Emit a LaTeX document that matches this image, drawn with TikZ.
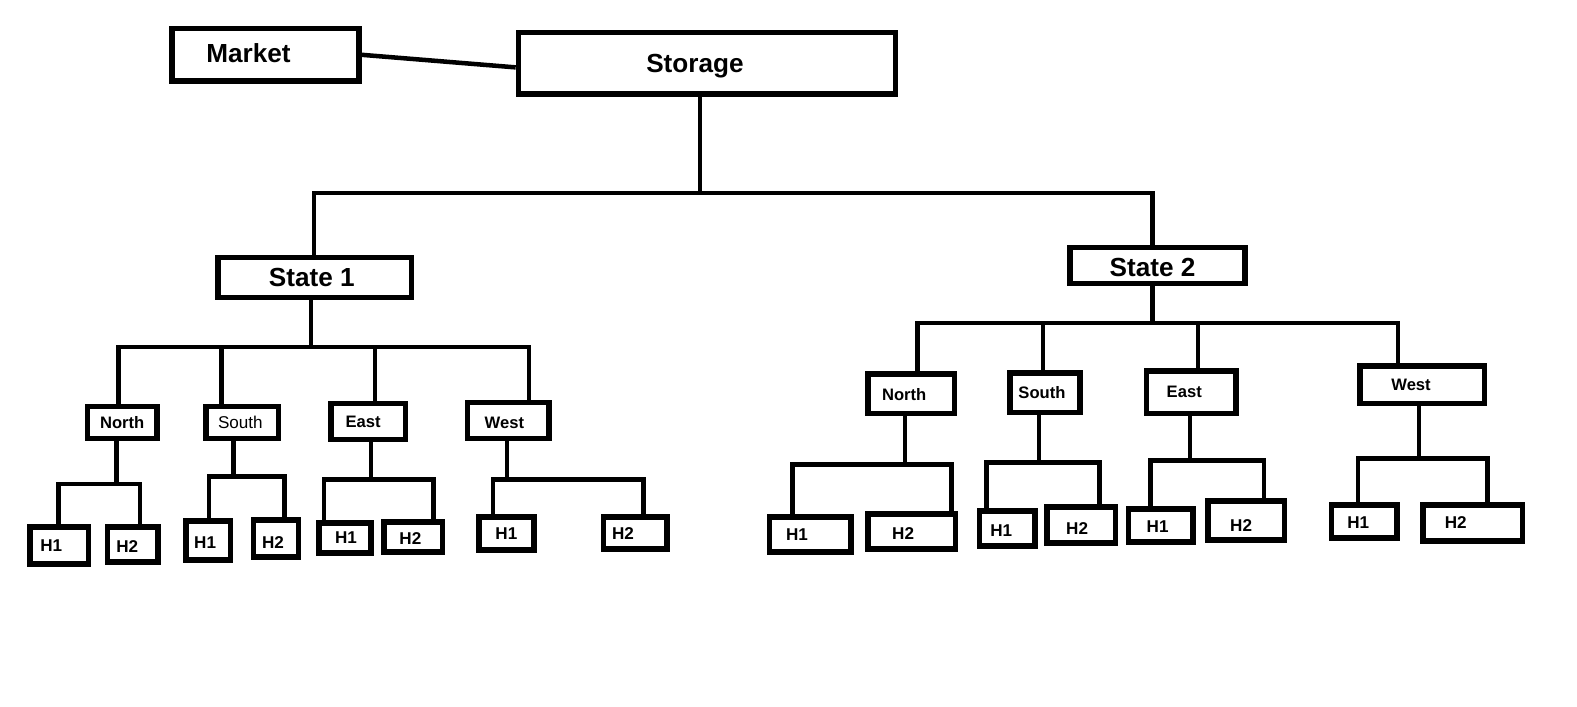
\documentclass[tikz,border=0pt]{standalone}
\usepackage{fontspec}
\setmainfont{Liberation Sans}

\tikzset{
	box/.style={draw,line width=5.5pt,inner sep=0pt},
	wire/.style={line width=4.5pt},
	big/.style={font=\fontsize{26}{30}\selectfont\bfseries},
	dir/.style={font=\fontsize{16.5}{20}\selectfont\bfseries},
	dirr/.style={font=\fontsize{17}{20}\selectfont},
	hh/.style={font=\fontsize{17}{20}\selectfont\bfseries}
}

\begin{document}
\begin{tikzpicture}[x=1pt,y=-1pt]
	\path[use as bounding box,fill=white](0,0) rectangle (1568,702);
	% top level
	\node[box,minimum width=186,minimum height=52,label={[big,xshift=-17,yshift=2]center:Market}](market) at (264,54.5){};
	\node[box,minimum width=375,minimum height=61,label={[big,xshift=-12,yshift=-3]center:Storage}](storage) at (703,63){};
	\node[box,minimum width=192,minimum height=40,label={[big,xshift=-3]center:State 1}](st1) at (313,276){};
	\node[box,minimum width=174,minimum height=36,label={[big,xshift=-5,yshift=-2]center:State 2}](st2) at (1151,264){};
	% state 1
	\node[box,minimum width=69,minimum height=32,label={[dir]center:North}](n1) at (121.5,420){};
	\node[box,minimum width=72,minimum height=32,label={[dirr,xshift=-2]center:South}](s1) at (241,420){};
	\node[box,minimum width=74,minimum height=36,label={[dir,xshift=-5]center:East}](e1) at (366,419){};
	\node[box,minimum width=81,minimum height=36,label={[dir,xshift=-4,yshift=-2]center:West}](w1) at (505.5,418){};
	\node[box,minimum width=58,minimum height=37,label={[hh,xshift=-8]center:H1}](nh1) at (59,542.5){};
	\node[box,minimum width=50,minimum height=35,label={[hh,xshift=-5.5,yshift=-2]center:H2}](nh2) at (132,541.5){};
	\node[box,minimum width=44,minimum height=39,label={[hh,xshift=-3,yshift=-2]center:H1}](sh1) at (207,537.5){};
	\node[box,minimum width=45,minimum height=37,label={[hh,xshift=-3,yshift=-4]center:H2}](sh2) at (274.5,535.5){};
	\node[box,minimum width=52,minimum height=30,label={[hh,xshift=1]center:H1}](eh1) at (343,535){};
	\node[box,minimum width=58,minimum height=30,label={[hh,xshift=-3,yshift=-1]center:H2}](eh2) at (411,534){};
	\node[box,minimum width=55,minimum height=33,label={[hh]center:H1}](wh1) at (503.5,530.5){};
	\node[box,minimum width=63,minimum height=32,label={[hh,xshift=-12]center:H2}](wh2) at (631.5,530){};
	% state 2
	\node[box,minimum width=86,minimum height=39,label={[dir,xshift=-7,yshift=-1]center:North}](n2) at (906,391.5){};
	\node[box,minimum width=70,minimum height=39,label={[dir,xshift=-3]center:South}](s2) at (1039,390.5){};
	\node[box,minimum width=89,minimum height=42,label={[dir,xshift=-7]center:East}](e2) at (1184.5,390){};
	\node[box,minimum width=124,minimum height=37,label={[dir,xshift=-11]center:West}](w2) at (1414,382.5){};
	\node[box,minimum width=81,minimum height=35,label={[hh,xshift=-13]center:H1}](n2h1) at (805.5,531.5){};
	\node[box,minimum width=87,minimum height=35,label={[hh,xshift=-8.5,yshift=-2]center:H2}](n2h2) at (906.5,528.5){};
	\node[box,minimum width=55,minimum height=35,label={[hh,xshift=-6,yshift=-2]center:H1}](s2h1) at (1001.5,525.5){};
	\node[box,minimum width=68,minimum height=36,label={[hh,xshift=-4,yshift=-4]center:H2}](s2h2) at (1075,522){};
	\node[box,minimum width=64,minimum height=33,label={[hh,xshift=-3,yshift=-1]center:H1}](e2h1) at (1154,522.5){};
	\node[box,minimum width=76,minimum height=39,label={[hh,xshift=-5,yshift=-5]center:H2}](e2h2) at (1239,517.5){};
	\node[box,minimum width=65,minimum height=33,label={[hh,xshift=-6,yshift=-1]center:H1}](w2h1) at (1356.5,518.5){};
	\node[box,minimum width=99,minimum height=36,label={[hh,xshift=-17]center:H2}](w2h2) at (1464.5,520){};
	% junctions
	\coordinate(jtop) at (696,192);
	\coordinate(j1) at (309,345);
	\coordinate(j2) at (1146,321);
	\coordinate(jn1) at (116,481);
	\coordinate(js1) at (232,474);
	\coordinate(je1) at (369,477);
	\coordinate(jw1) at (504,477);
	\coordinate(jn2) at (900,462);
	\coordinate(js2) at (1033,460);
	\coordinate(je2) at (1183,458);
	\coordinate(jw2) at (1411,456);
	% links
	\draw[wire](market.east)--([yshift=-4]storage.west);
	\draw[wire]([xshift=-7]storage.south)--(jtop);
	\draw[wire]([xshift=-1]st1.north)|-(jtop);
	\draw[wire]([xshift=-5]st2.north)|-(jtop);
	\draw[wire]([xshift=-4]st1.south)--(j1);
	\draw[wire]([xshift=-3.5]n1.north)|-(j1);
	\draw[wire]([xshift=-21]s1.north)|-(j1);
	\draw[wire]([xshift=7]e1.north)|-(j1);
	\draw[wire]([xshift=20.5]w1.north)|-(j1);
	\draw[wire]([xshift=-5]st2.south)--(j2);
	\draw[wire]([xshift=6]n2.north)|-(j2);
	\draw[wire]([xshift=-2]s2.north)|-(j2);
	\draw[wire]([xshift=6.5]e2.north)|-(j2);
	\draw[wire]([xshift=-24]w2.north)|-(j2);
	\draw[wire]([xshift=-5.5]n1.south)--(jn1);
	\draw[wire]([xshift=-1]nh1.north)|-(jn1);
	\draw[wire]([xshift=7]nh2.north)|-(jn1);
	\draw[wire]([xshift=-9]s1.south)--(js1);
	\draw[wire]([xshift=1]sh1.north)|-(js1);
	\draw[wire]([xshift=8.5]sh2.north)|-(js1);
	\draw[wire]([xshift=3]e1.south)--(je1);
	\draw[wire]([xshift=-21]eh1.north)|-(je1);
	\draw[wire]([xshift=20]eh2.north)|-(je1);
	\draw[wire]([xshift=-1.5]w1.south)--(jw1);
	\draw[wire]([xshift=-13.5]wh1.north)|-(jw1);
	\draw[wire]([xshift=8.5]wh2.north)|-(jw1);
	\draw[wire]([xshift=-6]n2.south)--(jn2);
	\draw[wire]([xshift=-17.5]n2h1.north)|-(jn2);
	\draw[wire]([xshift=39.5]n2h2.north)|-(jn2);
	\draw[wire]([xshift=-6]s2.south)--(js2);
	\draw[wire]([xshift=-20.5]s2h1.north)|-(js2);
	\draw[wire]([xshift=18]s2h2.north)|-(js2);
	\draw[wire]([xshift=-1.5]e2.south)--(je2);
	\draw[wire]([xshift=-10]e2h1.north)|-(je2);
	\draw[wire]([xshift=18]e2h2.north)|-(je2);
	\draw[wire]([xshift=-3]w2.south)--(jw2);
	\draw[wire]([xshift=-6.5]w2h1.north)|-(jw2);
	\draw[wire]([xshift=14.5]w2h2.north)|-(jw2);
\end{tikzpicture}
\end{document}
